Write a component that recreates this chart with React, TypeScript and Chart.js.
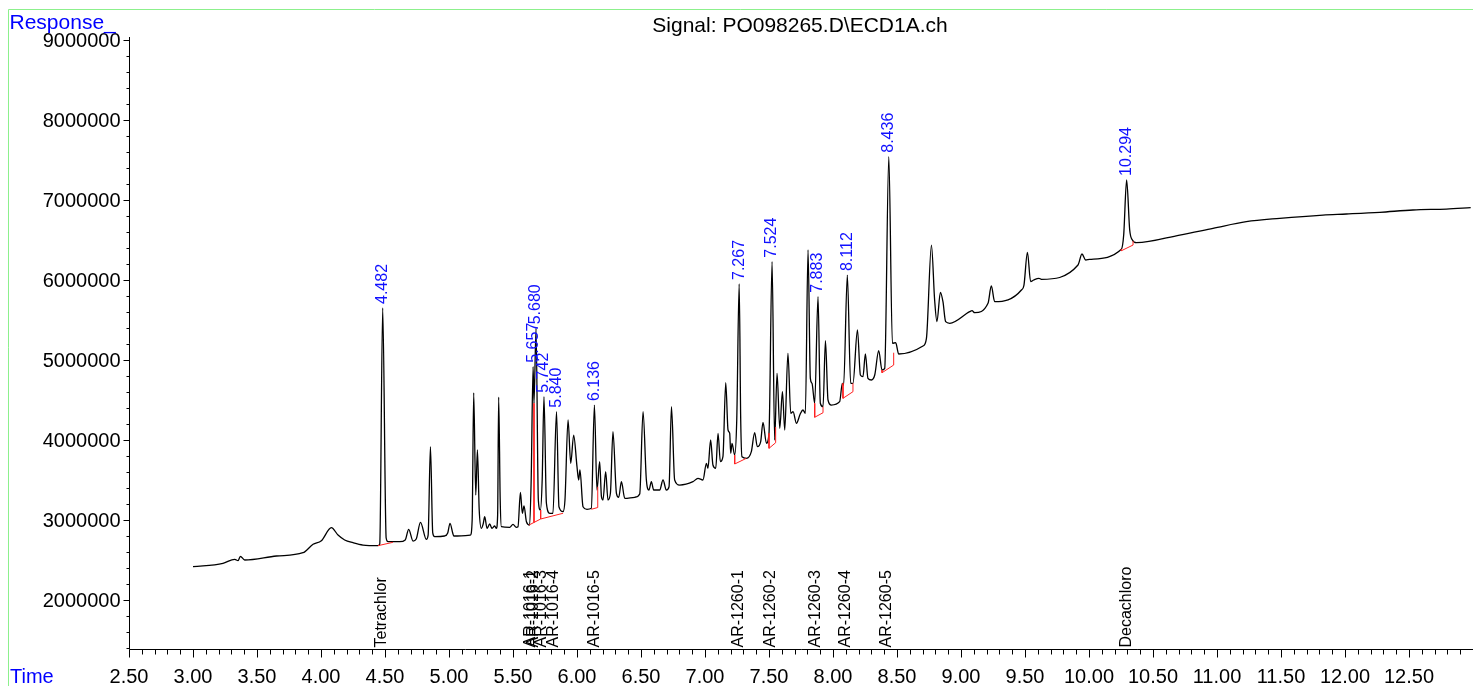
import React, { useEffect, useRef } from "react";
import { Chart, registerables } from "chart.js";

Chart.register(...registerables);

// ---- Chromatogram trace (retention time in min, response) ----
const traceTime = [
  3.0, 3.234, 3.326, 3.352, 3.37, 3.404, 3.652, 3.859, 3.938, 4.003, 4.081, 4.133, 4.185, 4.25, 4.328, 4.445,
  4.459, 4.482, 4.509, 4.523, 4.615, 4.658, 4.685, 4.719, 4.744, 4.777, 4.823, 4.837, 4.855, 4.873, 4.888,
  4.966, 4.99, 5.008, 5.029, 5.037, 5.167, 5.181, 5.193, 5.209, 5.222, 5.236, 5.253, 5.267, 5.279, 5.297,
  5.318, 5.336, 5.357, 5.37, 5.38, 5.388, 5.4, 5.409, 5.474, 5.5, 5.526, 5.539, 5.558, 5.573, 5.586, 5.605,
  5.63, 5.642, 5.657, 5.664, 5.68, 5.698, 5.714, 5.728, 5.742, 5.761, 5.787, 5.812, 5.84, 5.859, 5.891,
  5.906, 5.93, 5.951, 5.974, 6.0, 6.013, 6.023, 6.047, 6.078, 6.112, 6.136, 6.156, 6.177, 6.191, 6.203,
  6.224, 6.242, 6.261, 6.281, 6.308, 6.326, 6.347, 6.373, 6.451, 6.49, 6.516, 6.542, 6.562, 6.581, 6.599,
  6.646, 6.672, 6.698, 6.719, 6.738, 6.763, 6.802, 6.906, 6.945, 6.984, 7.011, 7.023, 7.044, 7.062, 7.084,
  7.102, 7.12, 7.14, 7.162, 7.18, 7.193, 7.201, 7.211, 7.232, 7.248, 7.267, 7.279, 7.289, 7.324, 7.362,
  7.388, 7.409, 7.435, 7.453, 7.48, 7.5, 7.524, 7.544, 7.563, 7.584, 7.605, 7.623, 7.648, 7.67, 7.688,
  7.714, 7.744, 7.765, 7.784, 7.805, 7.823, 7.836, 7.857, 7.883, 7.901, 7.922, 7.941, 7.961, 7.987, 8.052,
  8.073, 8.083, 8.112, 8.138, 8.156, 8.191, 8.214, 8.234, 8.253, 8.273, 8.3, 8.326, 8.357, 8.383, 8.404,
  8.436, 8.464, 8.49, 8.513, 8.703, 8.73, 8.769, 8.794, 8.812, 8.839, 8.859, 8.88, 8.912, 9.068, 9.086,
  9.107, 9.211, 9.237, 9.263, 9.472, 9.492, 9.519, 9.544, 9.568, 9.609, 9.628, 9.914, 9.945, 9.974, 10.005,
  10.253, 10.271, 10.294, 10.318, 10.339, 10.37, 10.709, 10.969, 11.229, 11.49, 11.828, 12.011, 12.271,
  12.531, 12.792, 12.982,
];
const traceResponse = [
  2416000, 2459000, 2509000, 2491000, 2546000, 2500000, 2550000, 2591000, 2696000, 2741000, 2904000, 2812000,
  2750000, 2716000, 2687000, 2679000, 2700000, 5650000, 2775000, 2729000, 2729000, 2750000, 2884000, 2737000,
  2762000, 2971000, 2759000, 2812000, 3916000, 2838000, 2791000, 2800000, 2838000, 2959000, 2838000, 2800000,
  2812000, 3000000, 4590000, 3312000, 3875000, 3125000, 2896000, 2950000, 3041000, 2896000, 2950000, 2896000,
  2925000, 2896000, 3062000, 4537000, 3250000, 2916000, 2909000, 2946000, 2909000, 2916000, 3346000, 3084000,
  3175000, 2979000, 2937000, 3500000, 4916000, 4459000, 5396000, 3250000, 3125000, 3500000, 4541000, 3209000,
  3084000, 3084000, 4354000, 3166000, 3104000, 3250000, 4250000, 3709000, 4062000, 3666000, 3500000, 3625000,
  3166000, 3134000, 3146000, 4437000, 3375000, 3729000, 3291000, 3250000, 3604000, 3250000, 3334000, 4104000,
  3334000, 3284000, 3479000, 3271000, 3284000, 3325000, 4354000, 3500000, 3375000, 3479000, 3375000, 3375000,
  3500000, 3375000, 3416000, 4416000, 3500000, 3437000, 3479000, 3521000, 3500000, 3709000, 3646000, 4000000,
  3687000, 3646000, 4084000, 3729000, 3791000, 4716000, 4125000, 4084000, 3834000, 3959000, 3812000, 4250000,
  5950000, 4250000, 3791000, 3771000, 3854000, 4091000, 3916000, 3979000, 4221000, 3959000, 4084000, 6229000,
  4000000, 4834000, 4146000, 4604000, 4125000, 5084000, 4334000, 4354000, 4209000, 4325000, 4375000, 4334000,
  6375000, 4771000, 4709000, 4459000, 5791000, 4459000, 4416000, 5241000, 4500000, 4437000, 4479000, 4709000,
  4687000, 6062000, 4709000, 4709000, 5375000, 4812000, 4791000, 5075000, 4771000, 4750000, 4812000, 5116000,
  4875000, 4896000, 7541000, 5209000, 5216000, 5075000, 5175000, 5271000, 6437000, 5750000, 5479000, 5846000,
  5729000, 5479000, 5459000, 5604000, 5616000, 5591000, 5709000, 5925000, 5729000, 5875000, 5937000, 6346000,
  5979000, 6000000, 6021000, 6009000, 6187000, 6325000, 6250000, 6259000, 6384000, 6562000, 7250000, 6625000,
  6500000, 6466000, 6562000, 6646000, 6729000, 6771000, 6812000, 6825000, 6846000, 6875000, 6887000, 6904000,
];

// ---- Integration baselines (red); null separates segments ----
const baselineTime = [
  4.445, 4.562, null,
  5.664, 5.664, null,
  5.625, 5.716, 5.891, null,
  5.716, 5.716, null,
  6.112, 6.162, 6.162, null,
  7.232, 7.232, 7.323, null,
  7.5, 7.5, 7.552, 7.552, null,
  7.857, 7.857, 7.922, 7.922, null,
  8.078, 8.078, 8.156, 8.156, null,
  8.383, 8.383, 8.474, 8.474, null,
  10.253, 10.253, 10.344, 10.344,
];
const baselineResponse = [
  2679000, 2721000, null,
  4459000, 2969000, null,
  2937500, 3012500, 3084000, null,
  3125000, 3012500, null,
  3134000, 3156000, 3416000, null,
  3812000, 3700000, 3771000, null,
  4084000, 3896000, 3966000, 4162000, null,
  4459000, 4284000, 4341000, 4416000, null,
  4709000, 4521000, 4604000, 4709000, null,
  4875000, 4841000, 4937000, 5091000, null,
  6384000, 6366000, 6437000, 6487000,
];

// ---- Peak retention-time labels (blue) ----
const peakTime = [4.482, 5.657, 5.68, 5.742, 5.84, 6.136, 7.267, 7.524, 7.883, 8.112, 8.436, 10.294];
const peakApex = [5650000, 4916000, 5396000, 4541000, 4354000, 4437000, 5950000, 6229000, 5791000, 6062000, 7541000, 7250000];
const peakLabel = ["4.482", "5.657", "5.680", "5.742", "5.840", "6.136", "7.267", "7.524", "7.883", "8.112", "8.436", "10.294"];

// ---- Compound names (black, at the axis) ----
const compoundName = [
  "Tetrachlor", "AR-1016-1", "AR-1016-2", "AR-1016-3", "AR-1016-4", "AR-1016-5",
  "AR-1260-1", "AR-1260-2", "AR-1260-3", "AR-1260-4", "AR-1260-5", "Decachloro",
];
const compoundTime = [4.474, 5.638, 5.662, 5.724, 5.818, 6.138, 7.263, 7.513, 7.865, 8.099, 8.419, 10.295];

// ---- Axis ticks ----
const xTickLabels = ["2.50", "3.00", "3.50", "4.00", "4.50", "5.00", "5.50", "6.00", "6.50", "7.00", "7.50",
  "8.00", "8.50", "9.00", "9.50", "10.00", "10.50", "11.00", "11.50", "12.00", "12.50"];
const yTickLabels = ["2000000", "3000000", "4000000", "5000000", "6000000", "7000000", "8000000", "9000000"];

const X_MIN = 2.5;
const X_MAX = 13.0;
const Y_MIN = 1387500;
const Y_MAX = 9000000;

const FONT = '"Liberation Sans", Arial, Helvetica, sans-serif';

const chromPlugin = {
  id: "chrom",
  beforeDraw(chart: any) {
    const ctx = chart.ctx;
    ctx.save();
    ctx.fillStyle = "#ffffff";
    ctx.fillRect(0, 0, chart.width, chart.height);
    ctx.restore();
  },
  afterDraw(chart: any) {
    const ctx: CanvasRenderingContext2D = chart.ctx;
    const { left, right, top, bottom } = chart.chartArea;
    const xs = chart.scales.x;
    const ys = chart.scales.y;
    ctx.save();

    // green frame
    ctx.strokeStyle = "rgb(140,240,140)";
    ctx.lineWidth = 1;
    ctx.beginPath();
    ctx.moveTo(8.5, chart.height);
    ctx.lineTo(8.5, 9.5);
    ctx.lineTo(chart.width, 9.5);
    ctx.stroke();

    // axes
    ctx.strokeStyle = "#000";
    ctx.lineWidth = 1;
    const ax = Math.round(left) + 0.5;
    const ay = Math.round(bottom) + 0.5;
    ctx.beginPath();
    ctx.moveTo(ax, top - 3);
    ctx.lineTo(ax, ay);
    ctx.lineTo(right, ay);
    ctx.stroke();

    // x ticks: minor every 0.1, major every 0.5
    ctx.beginPath();
    for (let i = 0; i <= Math.round((X_MAX - X_MIN) * 10); i++) {
      const v = X_MIN + i * 0.1;
      const px = Math.round(xs.getPixelForValue(v)) + 0.5;
      const major = i % 5 === 0;
      ctx.moveTo(px, ay);
      ctx.lineTo(px, ay + (major ? 8 : 5));
    }
    ctx.stroke();

    // y ticks: minor every 200000, major every 1000000
    ctx.beginPath();
    for (let v = 1400000; v <= Y_MAX + 1; v += 200000) {
      const py = Math.round(ys.getPixelForValue(v)) + 0.5;
      const major = Math.round(v / 200000) % 5 === 0;
      ctx.moveTo(ax, py);
      ctx.lineTo(ax - (major ? 6 : 3), py);
    }
    ctx.stroke();

    // tick labels
    ctx.fillStyle = "#000";
    ctx.font = `20px ${FONT}`;
    ctx.textAlign = "center";
    ctx.textBaseline = "alphabetic";
    xTickLabels.forEach((lab) => {
      const px = xs.getPixelForValue(parseFloat(lab));
      ctx.fillText(lab, px, ay + 33);
    });
    ctx.textAlign = "right";
    yTickLabels.forEach((lab) => {
      const py = ys.getPixelForValue(parseFloat(lab));
      ctx.fillText(lab, ax - 9, py + 7);
    });

    // title
    ctx.textAlign = "center";
    ctx.font = `21px ${FONT}`;
    ctx.fillText("Signal: PO098265.D\\ECD1A.ch", 800, 32);

    // axis captions
    ctx.fillStyle = "#0000ff";
    ctx.textAlign = "left";
    ctx.font = `21px ${FONT}`;
    ctx.fillText("Response_", 9.5, 29);
    ctx.font = `20px ${FONT}`;
    ctx.fillText("Time", 10, 683);

    // peak labels
    ctx.font = `16px ${FONT}`;
    ctx.fillStyle = "#1010ff";
    ctx.textBaseline = "middle";
    ctx.textAlign = "left";
    peakLabel.forEach((lab, i) => {
      const px = xs.getPixelForValue(peakTime[i]);
      const py = ys.getPixelForValue(peakApex[i]) - 4;
      ctx.save();
      ctx.translate(px, py);
      ctx.rotate(-Math.PI / 2);
      ctx.fillText(lab, 0, 0);
      ctx.restore();
    });

    // compound names
    ctx.fillStyle = "#000";
    compoundName.forEach((name, i) => {
      const px = xs.getPixelForValue(compoundTime[i]);
      ctx.save();
      ctx.translate(px, ay - 2);
      ctx.rotate(-Math.PI / 2);
      ctx.fillText(name, 0, 0);
      ctx.restore();
    });

    ctx.restore();
  },
};

export default function App() {
  const canvasRef = useRef<HTMLCanvasElement | null>(null);

  useEffect(() => {
    if (!canvasRef.current) return;
    const tracePoints = traceTime.map((t, i) => ({ x: t, y: traceResponse[i] }));
    const basePoints = baselineTime.map((t, i) => ({ x: t as any, y: baselineResponse[i] as any }));
    const chart = new Chart(canvasRef.current, {
      type: "line",
      data: {
        datasets: [
          {
            label: "baseline",
            data: basePoints,
            borderColor: "#ff2020",
            borderWidth: 1,
            pointRadius: 0,
            tension: 0,
            spanGaps: false,
            fill: false,
          },
          {
            label: "signal",
            data: tracePoints,
            borderColor: "#000000",
            borderWidth: 1.3,
            pointRadius: 0,
            cubicInterpolationMode: "monotone",
            fill: false,
          },
        ],
      },
      options: {
        animation: false,
        responsive: false,
        events: [],
        layout: { padding: { left: 129, top: 40, right: 0, bottom: 37 } },
        scales: {
          x: { type: "linear", min: X_MIN, max: X_MAX, display: false },
          y: { type: "linear", min: Y_MIN, max: Y_MAX, display: false },
        },
        plugins: {
          legend: { display: false },
          tooltip: { enabled: false },
        },
      } as any,
      plugins: [chromPlugin],
    });
    return () => chart.destroy();
  }, []);

  return (
    <div style={{ position: "fixed", left: 0, top: 0, width: 1473, height: 686 }}>
      <canvas ref={canvasRef} width={1473} height={686} style={{ display: "block" }} />
    </div>
  );
}
